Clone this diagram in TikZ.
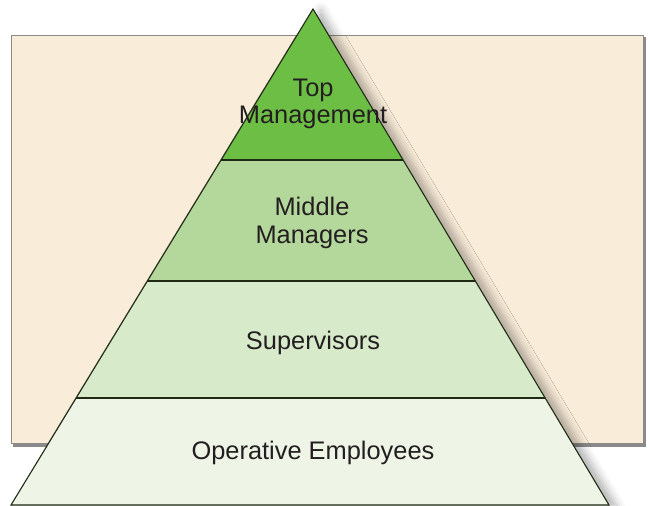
\documentclass[tikz,border=0pt]{standalone}
\usepackage{fontspec}
\setmainfont{Liberation Sans}
\usetikzlibrary{calc,shadows.blur}
\definecolor{paper}{HTML}{F9ECD8}
\definecolor{frame}{HTML}{8A8A8A}
\definecolor{tiertop}{HTML}{6DBE45}
\definecolor{tiermid}{HTML}{B4D89C}
\definecolor{tiersup}{HTML}{D7EACA}
\definecolor{tierop}{HTML}{EEF4E6}
\definecolor{edge}{HTML}{1E2A14}
\definecolor{ink}{HTML}{231F20}
\tikzset{
  tierlabel/.style={text=ink, align=center, font=\fontsize{25.5}{27.5}\selectfont, inner sep=0pt},
  tieredge/.style={draw=edge, line width=1.1bp, line join=miter},
}
\begin{document}
\begin{tikzpicture}[x=1bp,y=-1bp]
\useasboundingbox (0,0) rectangle (648,506);
% backdrop panel with a thin drop edge
\fill[frame] (13,37) rectangle (646,446.5);
\fill[paper, draw=frame, line width=1bp] (11.5,35.5) rectangle (643.5,443.5);

% pyramid corners and tier boundaries
\coordinate (apex) at (313,9);
\coordinate (bl) at (11,505);
\coordinate (br) at (609,505);
\coordinate (l1) at ($(apex)!0.3044!(bl)$);
\coordinate (r1) at ($(apex)!0.3044!(br)$);
\coordinate (l2) at ($(apex)!0.5484!(bl)$);
\coordinate (r2) at ($(apex)!0.5484!(br)$);
\coordinate (l3) at ($(apex)!0.7843!(bl)$);
\coordinate (r3) at ($(apex)!0.7843!(br)$);

% soft shadow of the whole pyramid
\path[fill=tierop, blur shadow={shadow xshift=8bp, shadow yshift=-1bp, shadow blur radius=8bp, shadow opacity=30}]
  (apex) -- (br) -- (bl) -- cycle;

% tiers
\fill[tiertop] (apex) -- (r1) -- (l1) -- cycle;
\fill[tiermid] (l1) -- (r1) -- (r2) -- (l2) -- cycle;
\fill[tiersup] (l2) -- (r2) -- (r3) -- (l3) -- cycle;
\fill[tierop] (l3) -- (r3) -- (br) -- (bl) -- cycle;

% outlines
\draw[tieredge] (apex) -- (br) -- (bl) -- cycle;
\draw[tieredge] (l1) -- (r1);
\draw[tieredge] (l2) -- (r2);
\draw[tieredge] (l3) -- (r3);

% labels
\node[tierlabel] (top) at (313,104) {Top\\Management};
\node[tierlabel] (middle) at (312,223) {Middle\\Managers};
\node[tierlabel] (sup) at (313,343) {Supervisors};
\node[tierlabel] (oper) at (313,453) {Operative Employees};
\end{tikzpicture}
\end{document}
